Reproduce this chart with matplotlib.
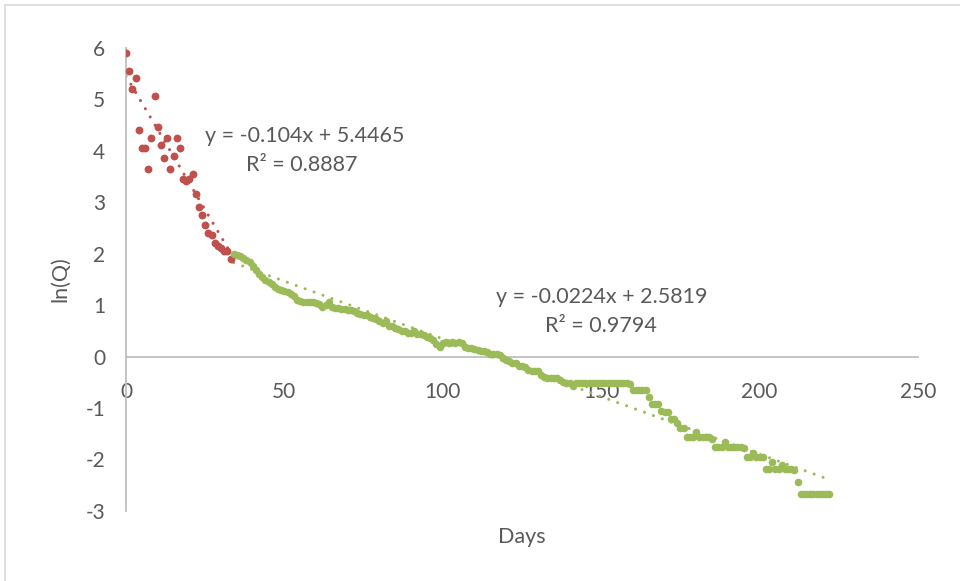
import numpy as np
import matplotlib
matplotlib.use("Agg")
import matplotlib.pyplot as plt
from matplotlib.lines import Line2D

plt.rcParams['font.family'] = ['Lato', 'DejaVu Sans']
plt.rcParams['axes.unicode_minus'] = False

# red series: first days (fast decline)
red_days = list(range(0, 34))
red_lnq = [5.90, 5.55, 5.20, 5.40, 4.40, 4.05, 4.05, 3.65, 4.25, 5.05,
           4.45, 4.10, 3.85, 4.25, 3.65, 3.90, 4.25, 4.05, 3.45, 3.40,
           3.45, 3.55, 3.15, 2.90, 2.75, 2.55, 2.40, 2.35, 2.20, 2.15,
           2.10, 2.05, 2.05, 1.90]

# green series: recession
green_days = list(range(34, 223))
green_lnq = [2.00, 1.98, 1.95, 1.91, 1.87, 1.84, 1.76, 1.68, 1.61, 1.55,
             1.49, 1.44, 1.40, 1.35, 1.32, 1.30, 1.28, 1.25, 1.21, 1.17,
             1.10, 1.07, 1.06, 1.06, 1.05, 1.05, 1.03, 1.01, 0.97, 1.00,
             1.06, 0.96, 0.95, 0.95, 0.93, 0.92, 0.91, 0.90, 0.88, 0.85,
             0.82, 0.81, 0.80, 0.76, 0.75, 0.72, 0.68, 0.66, 0.68, 0.60,
             0.59, 0.56, 0.53, 0.50, 0.49, 0.46, 0.45, 0.49, 0.44, 0.43,
             0.41, 0.38, 0.36, 0.33, 0.25, 0.18, 0.27, 0.28, 0.27, 0.28,
             0.27, 0.28, 0.26, 0.18, 0.17, 0.16, 0.15, 0.12, 0.10, 0.10,
             0.09, 0.05, 0.04, 0.04, 0.03, -0.02, -0.06, -0.08, -0.12, -0.13,
             -0.18, -0.19, -0.20, -0.26, -0.28, -0.28, -0.29, -0.35, -0.40, -0.41,
             -0.41, -0.42, -0.42, -0.45, -0.49, -0.51, -0.51, -0.58, -0.51, -0.51,
             -0.51, -0.51, -0.51, -0.51, -0.52, -0.51, -0.51, -0.52, -0.51, -0.51,
             -0.51, -0.51, -0.51, -0.51, -0.51, -0.53, -0.65, -0.66, -0.66, -0.66,
             -0.66, -0.78, -0.92, -0.93, -0.93, -1.05, -1.08, -1.08, -1.22, -1.22,
             -1.30, -1.38, -1.38, -1.56, -1.56, -1.56, -1.47, -1.56, -1.56, -1.56,
             -1.56, -1.60, -1.76, -1.76, -1.76, -1.67, -1.76, -1.76, -1.76, -1.76,
             -1.76, -1.78, -1.95, -1.95, -1.88, -1.95, -1.95, -1.95, -2.18, -2.18,
             -2.05, -2.18, -2.18, -2.10, -2.18, -2.18, -2.18, -2.20, -2.44, -2.67,
             -2.67, -2.67, -2.67, -2.67, -2.67, -2.67, -2.67, -2.67, -2.67]

# trendline coefficients as printed on the chart
red_fit = (-0.104, 5.4465, 0.8887)
green_fit = (-0.0224, 2.5819, 0.9794)

red = '#C0504D'
green = '#9BBB59'
txt = '#595959'
axcol = '#BFBFBF'

fig = plt.figure(figsize=(9.6, 5.81), dpi=100)
ax = fig.add_axes([0.13125, 0.1205, 0.825, 0.7977])

# trendlines (round dots)
for days, (m, b, r2), col in [(red_days, red_fit, red), (green_days, green_fit, green)]:
    xx = np.array([days[0], days[-1]])
    ax.plot(xx, m * xx + b, color=col, lw=2.2, linestyle=(0, (0.01, 3.1)),
            dash_capstyle='round', zorder=2)

ax.scatter(red_days, red_lnq, s=32, color=red, linewidths=0, zorder=3)
ax.scatter(green_days, green_lnq, s=30, color=green, linewidths=0, zorder=3)

ax.set_xlim(0, 250)
ax.set_ylim(-3, 6)
ax.set_xticks([0, 50, 100, 150, 200, 250])
ax.set_yticks(range(-3, 7))

for s in ['top', 'right']:
    ax.spines[s].set_visible(False)
ax.spines['bottom'].set_position(('data', 0))
ax.spines['bottom'].set_color(axcol)
ax.spines['left'].set_color(axcol)
ax.spines['bottom'].set_linewidth(1.3)
ax.spines['left'].set_linewidth(1.3)
ax.tick_params(axis='x', length=0, pad=18, labelsize=15, labelcolor=txt)
ax.tick_params(axis='y', length=0, pad=15, labelsize=15, labelcolor=txt)

ax.set_xlabel('Days', fontsize=15.5, color=txt, va='center')
ax.xaxis.set_label_coords(0.5, -0.056)
ax.set_ylabel('ln(Q)', fontsize=15.5, color=txt, va='center')
ax.yaxis.set_label_coords(-0.083, 0.5)

# equation labels
ax.text(56.3, 4.28, 'y = -0.104x + 5.4465', fontsize=15.5, color=txt, ha='center', va='center')
ax.text(55.6, 3.72, 'R² = 0.8887', fontsize=15.5, color=txt, ha='center', va='center')
ax.text(150.3, 1.155, 'y = -0.0224x + 2.5819', fontsize=15.5, color=txt, ha='center', va='center')
ax.text(150.0, 0.59, 'R² = 0.9794', fontsize=15.5, color=txt, ha='center', va='center')

# chart area border
fig.add_artist(Line2D([0.0052, 1.0], [0.9914, 0.9914], color='#D9D9D9', lw=1.2, transform=fig.transFigure))
fig.add_artist(Line2D([0.0052, 0.0052], [0.0, 0.9914], color='#D9D9D9', lw=1.2, transform=fig.transFigure))

fig.savefig('out.png', dpi=100)
